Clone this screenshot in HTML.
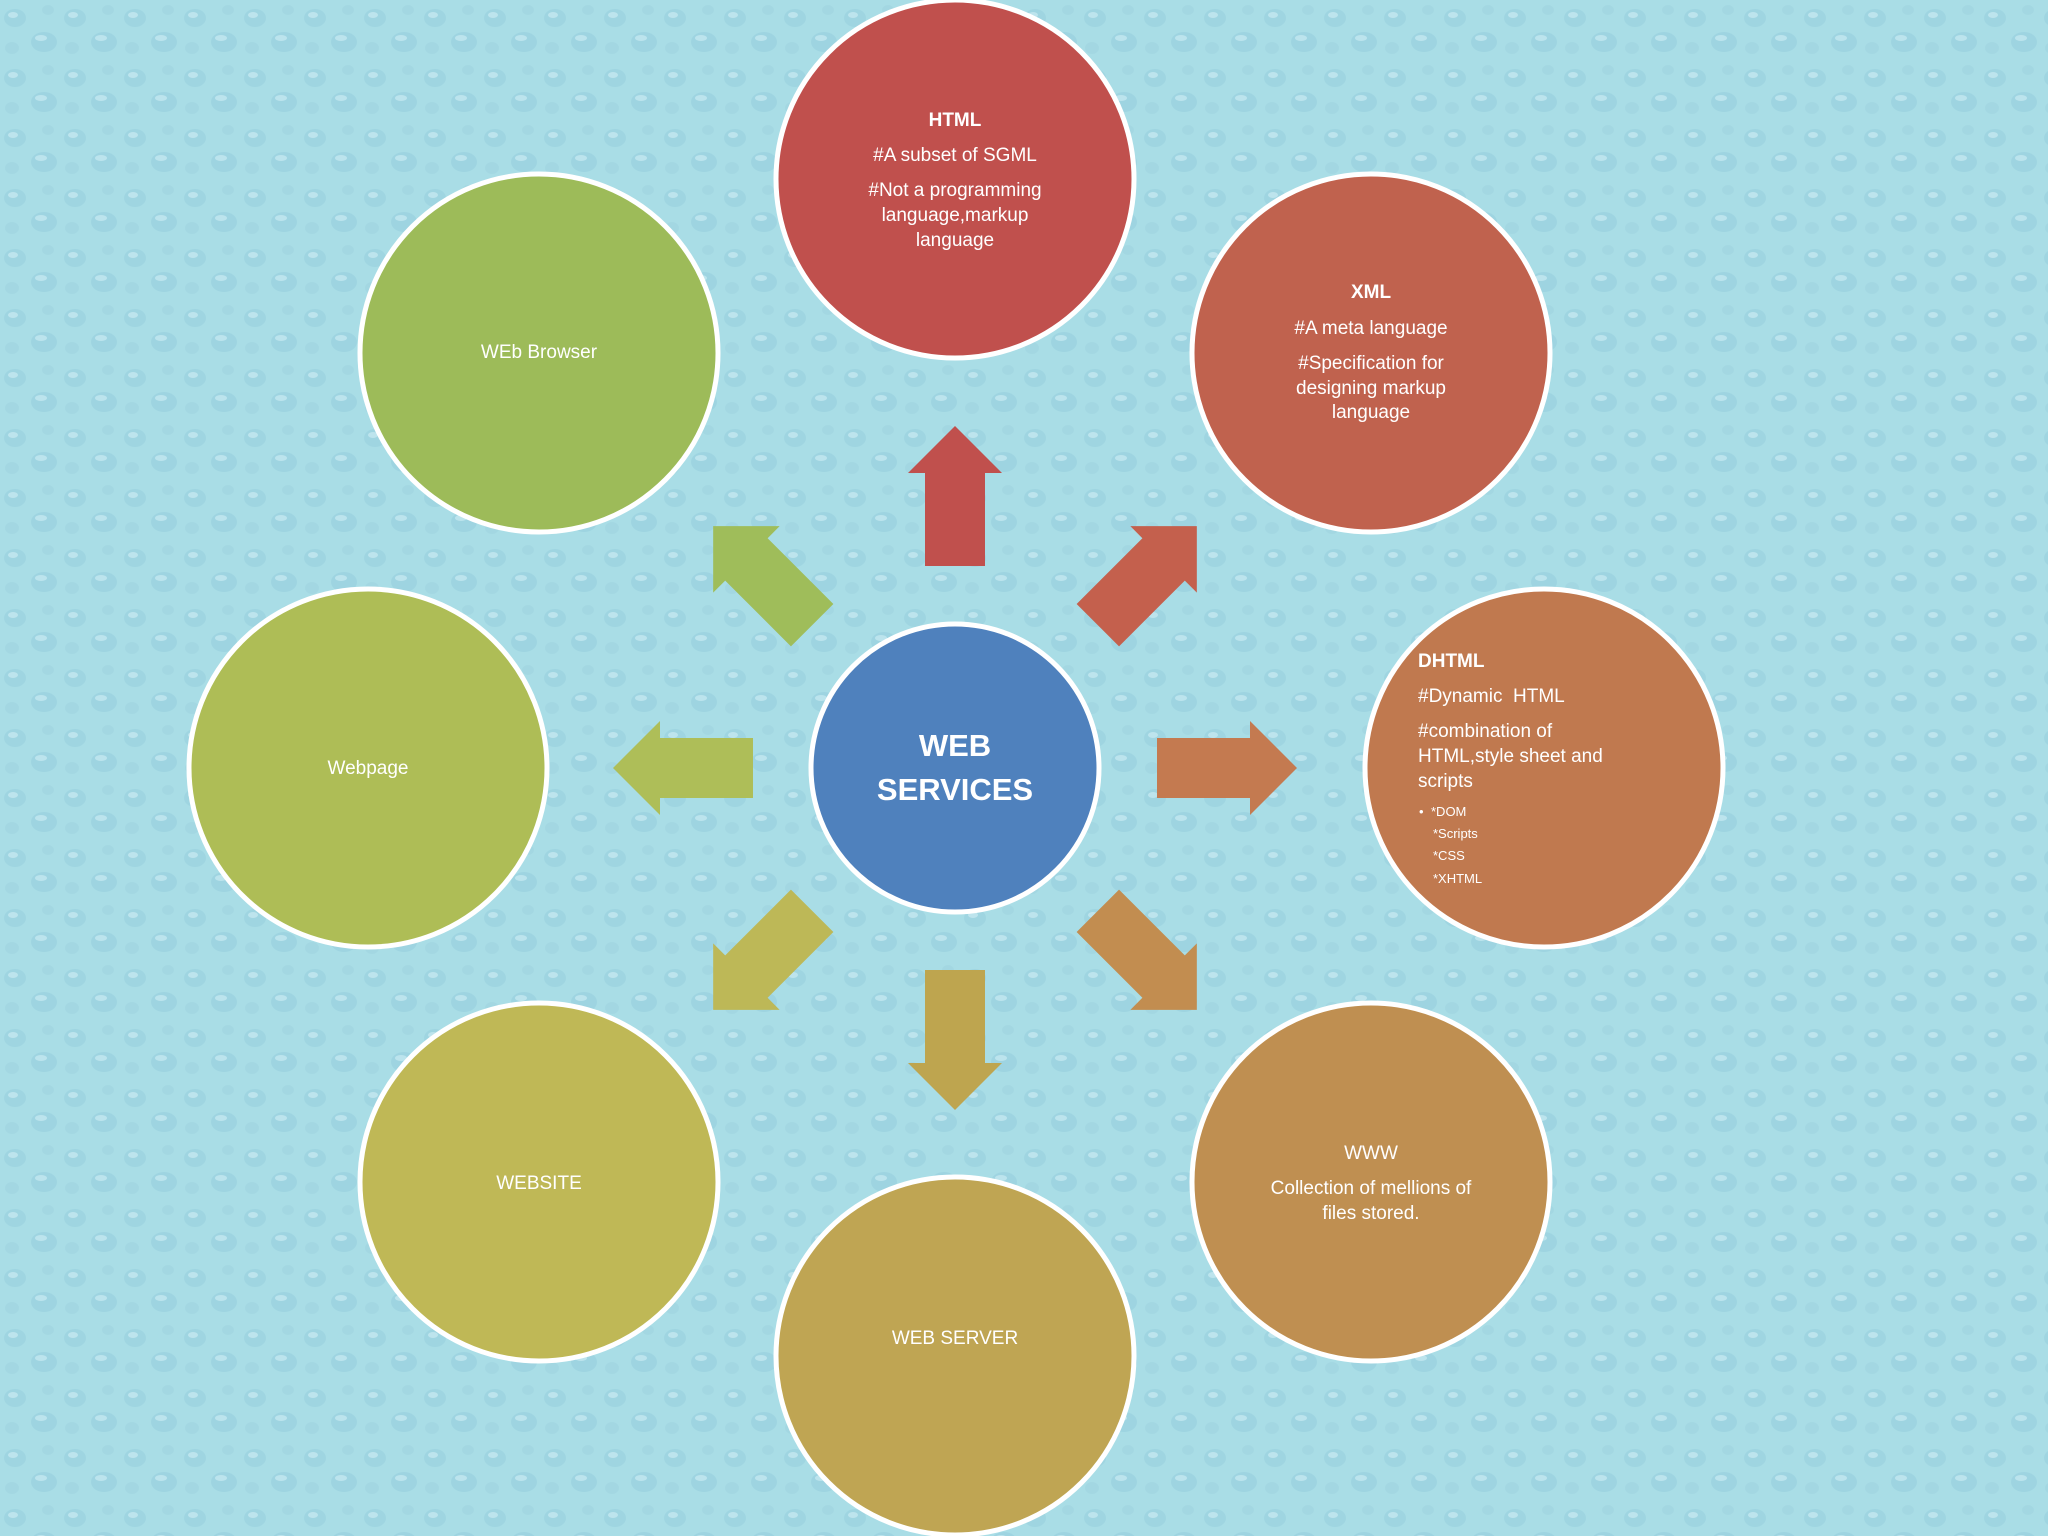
<!DOCTYPE html>
<html><head><meta charset="utf-8"><style>
html,body{margin:0;padding:0;}
body{width:2048px;height:1536px;overflow:hidden;background:#a9dde6;}
svg{display:block;}
text{font-family:"Liberation Sans",sans-serif;fill:#fff;}
</style></head><body>
<svg width="2048" height="1536" viewBox="0 0 2048 1536" xmlns="http://www.w3.org/2000/svg">
<defs>
<pattern id="drops" width="60" height="60" patternUnits="userSpaceOnUse">
<rect width="60" height="60" fill="#a9dde6"/>
<ellipse cx="15" cy="18" rx="11" ry="9" fill="#98d0de" opacity="0.6"/>
<ellipse cx="13" cy="15" rx="5" ry="3" fill="#d0eff5" opacity="0.6"/>
<ellipse cx="44" cy="42" rx="13" ry="10" fill="#96cedd" opacity="0.6"/>
<ellipse cx="41" cy="38" rx="6" ry="3" fill="#d0eff5" opacity="0.6"/>
<ellipse cx="48" cy="10" rx="6" ry="5" fill="#9ed3e0" opacity="0.6"/>
<ellipse cx="12" cy="48" rx="7" ry="6" fill="#9ed3e0" opacity="0.6"/>
</pattern>
<path id="arr" d="M0,-342 L47,-295 L30,-295 L30,-202 L-30,-202 L-30,-295 L-47,-295 Z"/>
</defs>
<rect width="2048" height="1536" fill="url(#drops)"/>

<g transform="translate(955,768)">
<use href="#arr" fill="#c0504d" transform="rotate(0)"/>
<use href="#arr" fill="#c4604d" transform="rotate(45)"/>
<use href="#arr" fill="#c47a50" transform="rotate(90)"/>
<use href="#arr" fill="#c28d50" transform="rotate(135)"/>
<use href="#arr" fill="#bea54f" transform="rotate(180)"/>
<use href="#arr" fill="#bdb857" transform="rotate(225)"/>
<use href="#arr" fill="#aebe58" transform="rotate(270)"/>
<use href="#arr" fill="#9fbd5a" transform="rotate(315)"/>
</g>

<g stroke="#fff" stroke-width="5">
<circle cx="955" cy="179" r="179" fill="#c0504d"/>
<circle cx="1371" cy="353" r="179" fill="#c0624e"/>
<circle cx="1544" cy="768" r="179" fill="#c0794f"/>
<circle cx="1371" cy="1182" r="179" fill="#bf8f51"/>
<circle cx="955" cy="1356" r="179" fill="#bfa553"/>
<circle cx="539" cy="1182" r="179" fill="#bfb856"/>
<circle cx="368" cy="768" r="179" fill="#aebd56"/>
<circle cx="539" cy="353" r="179" fill="#9dbb59"/>
<circle cx="955" cy="768" r="144" fill="#4f81bd"/>
</g>

<g font-size="19" text-anchor="middle">
<text x="955" y="126" font-weight="bold">HTML</text>
<text x="955" y="161">#A subset of SGML</text>
<text x="955" y="196">#Not a programming</text>
<text x="955" y="221">language,markup</text>
<text x="955" y="246">language</text>

<text x="1371" y="298" font-weight="bold">XML</text>
<text x="1371" y="334">#A meta language</text>
<text x="1371" y="369">#Specification for</text>
<text x="1371" y="394">designing markup</text>
<text x="1371" y="418">language</text>

<text x="1371" y="1159">WWW</text>
<text x="1371" y="1194">Collection of mellions of</text>
<text x="1371" y="1219">files stored.</text>

<text x="955" y="1344">WEB SERVER</text>
<text x="539" y="1189">WEBSITE</text>
<text x="368" y="774">Webpage</text>
<text x="539" y="358">WEb Browser</text>

<text x="955" y="756" font-size="31" font-weight="bold">WEB</text>
<text x="955" y="800" font-size="31" font-weight="bold">SERVICES</text>
</g>

<g font-size="19">
<text x="1418" y="667" font-weight="bold">DHTML</text>
<text x="1418" y="702" xml:space="preserve">#Dynamic  HTML</text>
<text x="1418" y="737">#combination of</text>
<text x="1418" y="762">HTML,style sheet and</text>
<text x="1418" y="787">scripts</text>
<text x="1419" y="816" font-size="13">•</text>
<text x="1431" y="816" font-size="13">*DOM</text>
<text x="1433" y="838" font-size="13">*Scripts</text>
<text x="1433" y="860" font-size="13">*CSS</text>
<text x="1433" y="883" font-size="13">*XHTML</text>
</g>
</svg>
</body></html>
